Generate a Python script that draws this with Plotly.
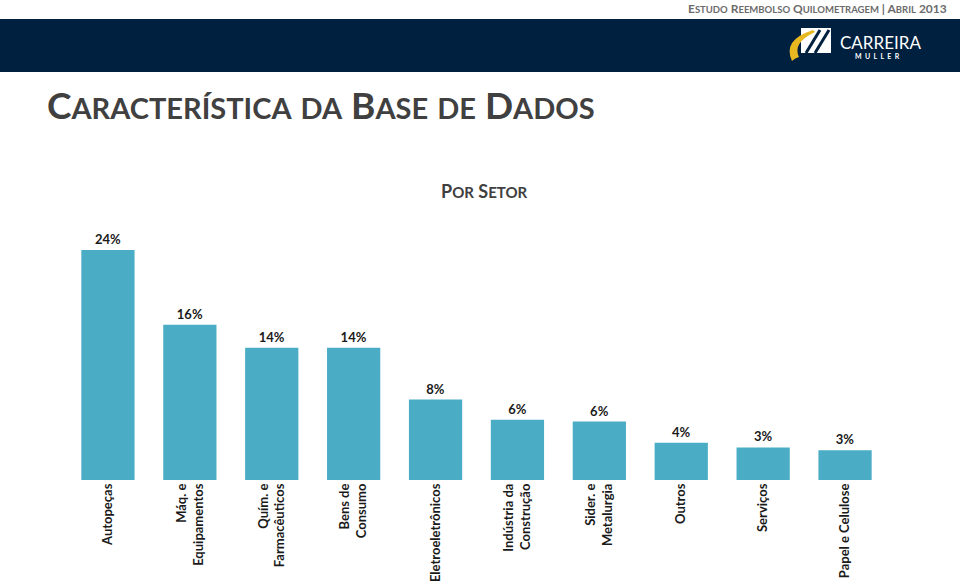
import plotly.graph_objects as go

# ---- data ----
categories = ["Autopeças", "Máq. e<br>Equipamentos", "Quím. e<br>Farmacêuticos", "Bens de<br>Consumo",
              "Eletroeletrônicos", "Indústria da<br>Construção", "Sider. e<br>Metalurgia", "Outros",
              "Serviços", "Papel e Celulose"]
values = [24.0, 16.2, 13.8, 13.8, 8.4, 6.3, 6.1, 3.9, 3.4, 3.1]
labels = ["24%", "16%", "14%", "14%", "8%", "6%", "6%", "4%", "3%", "3%"]

W, H = 960, 584
L, R, T, B = 67, 74, 192, 104
PW, PH = W - L - R, H - T - B
YMAX = PH / 9.583

def px(x):
    return (x - L) / PW

def py(y):
    return (H - B - y) / PH

def sc(text, big, small):
    out = []
    for word in text.split(" "):
        if word and word[0].isalpha() and word[0].isupper():
            first = word[0]
            rest = word[1:]
            if rest:
                out.append(f"{first}<span style='font-size:{small}px'>{rest.upper()}</span>")
            else:
                out.append(first)
        else:
            out.append(f"<span style='font-size:{small}px'>{word.upper()}</span>" if word.isalpha() else word)
    return " ".join(out)

FONT = "Lato"

fig = go.Figure()
fig.add_trace(go.Bar(
    x=categories, y=values, text=labels, textposition="outside",
    marker=dict(color="#4BACC6", line=dict(width=0)),
    textfont=dict(family=FONT, size=13, color="#1a1a1a", weight="bold"),
    cliponaxis=False, width=0.65, hoverinfo="skip",
))

shapes = [
    dict(type="rect", xref="paper", yref="paper", x0=px(0), x1=px(W), y0=py(19), y1=py(72),
         fillcolor="#00203F", line=dict(width=0), layer="below"),
    # logo
    dict(type="rect", xref="paper", yref="paper", x0=px(801), x1=px(831), y0=py(28), y1=py(53),
         fillcolor="white", line=dict(width=0)),
    dict(type="line", xref="paper", yref="paper", x0=px(806), y0=py(53), x1=px(820), y1=py(30),
         line=dict(color="#00203F", width=3)),
    dict(type="line", xref="paper", yref="paper", x0=px(815), y0=py(53), x1=px(829), y1=py(30),
         line=dict(color="#00203F", width=3)),
    dict(type="path", xref="paper", yref="paper",
         path=f"M {px(813)} {py(30)} Q {px(782)} {py(40)} {px(792)} {py(61)} "
              f"Q {px(795)} {py(58)} {px(799)} {py(57)} Q {px(792)} {py(43)} {px(815)} {py(32)} Z",
         fillcolor="#E8B820", line=dict(width=0)),
]

annotations = [
    dict(text=sc("Estudo Reembolso Quilometragem | Abril 2013", 12, 9.5), xref="paper", yref="paper",
         x=px(949), y=py(9), xanchor="right", yanchor="middle", showarrow=False,
         font=dict(family=FONT, size=12, color="#6b6b6b", weight="bold")),
    dict(text="CARREIRA", xref="paper", yref="paper", x=px(838), y=py(42), xanchor="left", yanchor="middle",
         showarrow=False, font=dict(family=FONT, size=17, color="white")),
    dict(text="M  U  L  L  E  R", xref="paper", yref="paper", x=px(877), y=py(56), xanchor="center",
         yanchor="middle", showarrow=False, font=dict(family=FONT, size=7, color="white", weight="bold")),
    dict(text=sc("Característica da Base de Dados", 37, 29), xref="paper", yref="paper",
         x=px(45), y=py(104), xanchor="left", yanchor="middle", showarrow=False,
         font=dict(family=FONT, size=37, color="#404040", weight="bold")),
    dict(text=sc("Por Setor", 18, 15), xref="paper", yref="paper",
         x=px(484), y=py(191), xanchor="center", yanchor="middle", showarrow=False,
         font=dict(family=FONT, size=18, color="#404040", weight="bold")),
]

fig.update_layout(
    width=W, height=H, margin=dict(l=L, r=R, t=T, b=B, pad=0),
    paper_bgcolor="white", plot_bgcolor="white", showlegend=False,
    shapes=shapes, annotations=annotations, bargap=0.35, hovermode=False,
    xaxis=dict(type="category", tickangle=-90, showgrid=False, showline=False, zeroline=False,
               ticks="", tickfont=dict(family=FONT, size=13, color="#1a1a1a", weight="bold"),
               automargin=False),
    yaxis=dict(range=[0, YMAX], visible=False, showgrid=False, zeroline=False, automargin=False),
    font=dict(family=FONT),
)

fig.write_html("out.html", config={"displayModeBar": False},
               post_script="document.body.style.margin='0';document.body.style.overflow='hidden';")
